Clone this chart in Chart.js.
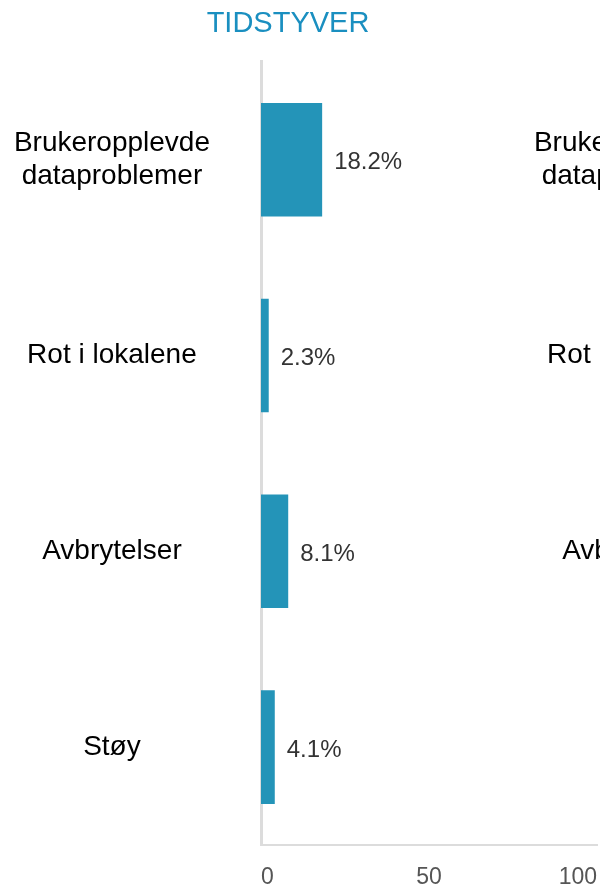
<!DOCTYPE html>
<html>
<head>
<meta charset="utf-8">
<script src="https://cdn.jsdelivr.net/npm/chart.js@4.4.0/dist/chart.umd.min.js"></script>
<style>
  html, body { margin: 0; padding: 0; background: #fff; overflow: hidden; }
  #wrap { position: relative; width: 600px; height: 888px; overflow: hidden; }
  #graphique-tidstyver { position: absolute; left: 0; top: 0; }
  #graphique-neste { position: absolute; left: 520px; top: 0; }
</style>
</head>
<body>
<div id="wrap">
  <canvas id="graphique-neste" width="600" height="888"></canvas>
  <canvas id="graphique-tidstyver" width="600" height="888"></canvas>
</div>
<script>
// Kategorier og verdier (prosent)
const kategorier = [["Brukeropplevde", "dataproblemer"], "Rot i lokalene", "Avbrytelser", "Støy"];
const verdier = [18.2, 2.3, 8.1, 4.1];
const xTicks = [0, 50, 100];
const tittel = "TIDSTYVER";

const font = '"Liberation Sans", Arial, sans-serif';

// etiketter ved enden av hver stolpe
const verdiEtiketter = {
  id: 'verdiEtiketter',
  afterDatasetsDraw(chart) {
    const ctx = chart.ctx;
    chart.data.datasets.forEach((ds, i) => {
      const meta = chart.getDatasetMeta(i);
      meta.data.forEach((bar, j) => {
        const v = ds.data[j];
        if (v == null) return;
        ctx.save();
        ctx.font = '24px ' + font;
        ctx.fillStyle = '#333';
        ctx.textAlign = 'left';
        ctx.textBaseline = 'middle';
        ctx.fillText(v.toFixed(1) + '%', bar.x + 12, bar.y + 3);
        ctx.restore();
      });
    });
  }
};

function lagKonfig(tekst, data) {
  return {
    type: 'bar',
    data: {
      labels: kategorier,
      datasets: [{
        data: data,
        backgroundColor: '#2494b8',
        categoryPercentage: 1,
        barPercentage: 0.58
      }]
    },
    options: {
      indexAxis: 'y',
      responsive: false,
      animation: false,
      // venstre -24 flytter tittelen litt mot venstre som i originalen
      layout: { padding: { left: -24, right: 0, top: 0, bottom: 0 } },
      plugins: {
        legend: { display: false },
        tooltip: { enabled: false },
        title: {
          display: true,
          text: tekst,
          color: '#1a8fc0',
          font: { family: font, size: 29, weight: 'normal' },
          padding: { top: 7, bottom: 20 }
        }
      },
      scales: {
        x: {
          min: 0,
          max: 100,
          afterBuildTicks(scale) { scale.ticks = xTicks.map(v => ({ value: v })); },
          afterFit(scale) {
            scale.paddingRight = 3;
            scale.paddingLeft = 0;
            scale.height = 43;
          },
          grid: { display: false, drawTicks: false },
          border: { display: true, color: '#dcdcdc', width: 2 },
          ticks: { color: '#555', padding: 19, align: 'inner', font: { family: font, size: 23 } }
        },
        y: {
          grid: { display: false, drawTicks: false },
          border: { display: true, color: '#dcdcdc', width: 3 },
          afterFit(scale) {
            scale.width = 285;
            scale.paddingTop = 0;
            scale.paddingBottom = 0;
          },
          ticks: {
            color: '#000',
            crossAlign: 'center',
            padding: 51,
            font: { family: font, size: 28, lineHeight: 1.2 }
          }
        }
      }
    },
    plugins: [verdiEtiketter]
  };
}

// neste diagram til høyre, bare etikettene synes
new Chart(document.querySelector('#graphique-neste'), lagKonfig(tittel, []));
new Chart(document.querySelector('#graphique-tidstyver'), lagKonfig(tittel, verdier));
</script>
</body>
</html>
